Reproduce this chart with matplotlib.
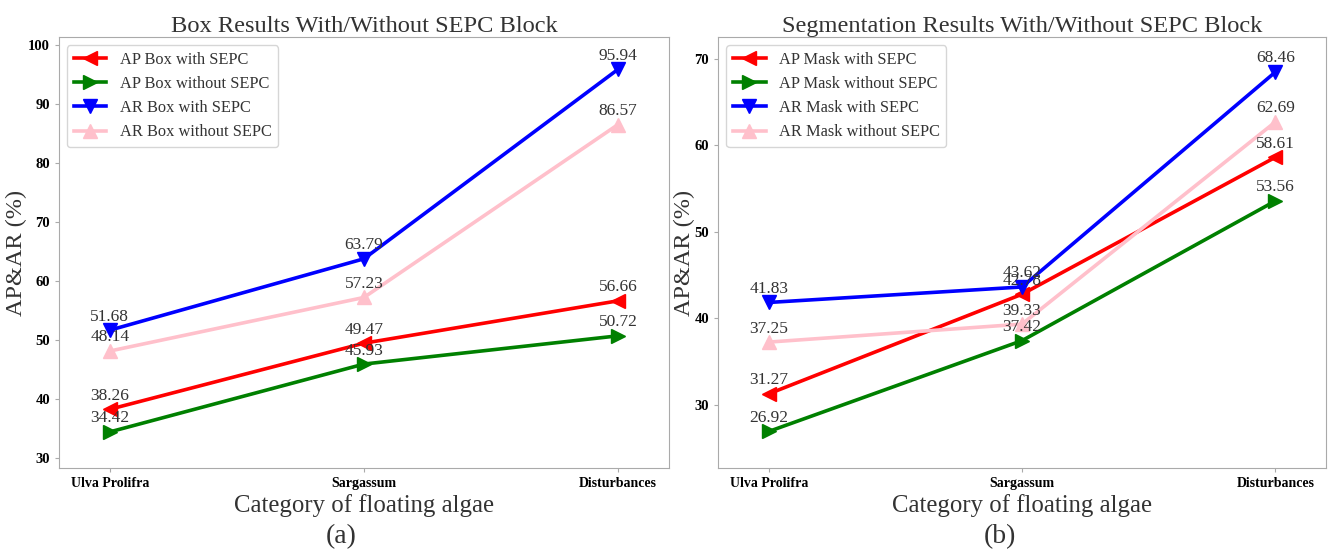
import matplotlib
matplotlib.use('Agg')
import matplotlib.pyplot as plt

categories = ['Ulva Prolifra', 'Sargassum', 'Disturbances']

# box results
ap_box_with = [38.26, 49.47, 56.66]
ap_box_without = [34.42, 45.93, 50.72]
ar_box_with = [51.68, 63.79, 95.94]
ar_box_without = [48.14, 57.23, 86.57]

# mask results
ap_mask_with = [31.27, 42.78, 58.61]
ap_mask_without = [26.92, 37.42, 53.56]
ar_mask_with = [41.83, 43.62, 68.46]
ar_mask_without = [37.25, 39.33, 62.69]

plt.rcParams['font.family'] = ['Liberation Serif', 'DejaVu Serif']
txt_col = '#333333'
spine_col = '#aaaaaa'

fig = plt.figure(figsize=(13.28, 5.56), dpi=100)
ax1 = fig.add_axes([0.0444, 0.1583, 0.4593, 0.775])
ax2 = fig.add_axes([0.5407, 0.1583, 0.4578, 0.775])


def draw(ax, series, kind, title, ylim, tag, ylab_x):
    x = list(range(len(categories)))
    styles = [('<', 'red'), ('>', 'green'), ('v', 'blue'), ('^', 'pink')]
    names = ['AP %s with SEPC', 'AP %s without SEPC', 'AR %s with SEPC', 'AR %s without SEPC']
    for vals, (m, c), n in zip(series, styles, names):
        ax.plot(x, vals, marker=m, color=c, lw=2.6, ms=10, label=n % kind)
        for xi, v in zip(x, vals):
            ax.annotate('%.2f' % v, (xi, v), xytext=(0, 4), textcoords='offset points',
                        ha='center', va='bottom', fontsize=12.5, color=txt_col)
    ax.set_xlim(-0.2, 2.2)
    ax.set_ylim(*ylim)
    ax.set_xticks(x)
    ax.set_xticklabels(categories, fontweight='bold', fontsize=10)
    for lab in ax.get_yticklabels():
        lab.set_fontweight('bold')
        lab.set_fontsize(10.5)
    ax.tick_params(colors=spine_col, labelcolor='black', length=3)
    for s in ax.spines.values():
        s.set_color(spine_col)
    ax.set_title(title, fontsize=17.6, color=txt_col, pad=4)
    ax.set_ylabel('AP&AR (%)', fontsize=17.5, color=txt_col)
    ax.yaxis.set_label_coords(ylab_x, 0.5)
    ax.set_xlabel('Category of floating algae', fontsize=17.8, color=txt_col, labelpad=3)
    leg = ax.legend(loc='upper left', fontsize=11.8, frameon=True, handlelength=2.0)
    for t in leg.get_texts():
        t.set_color(txt_col)
    ax.text(0.463, -0.13, tag, transform=ax.transAxes, ha='center', va='top',
            fontsize=20, color=txt_col)


draw(ax1, [ap_box_with, ap_box_without, ar_box_with, ar_box_without], 'Box',
     'Box Results With/Without SEPC Block', (28.3, 101.4), '(a)', -0.052)
draw(ax2, [ap_mask_with, ap_mask_without, ar_mask_with, ar_mask_without], 'Mask',
     'Segmentation Results With/Without SEPC Block', (22.7, 72.5), '(b)', -0.038)

fig.savefig('out.png', dpi=100)
